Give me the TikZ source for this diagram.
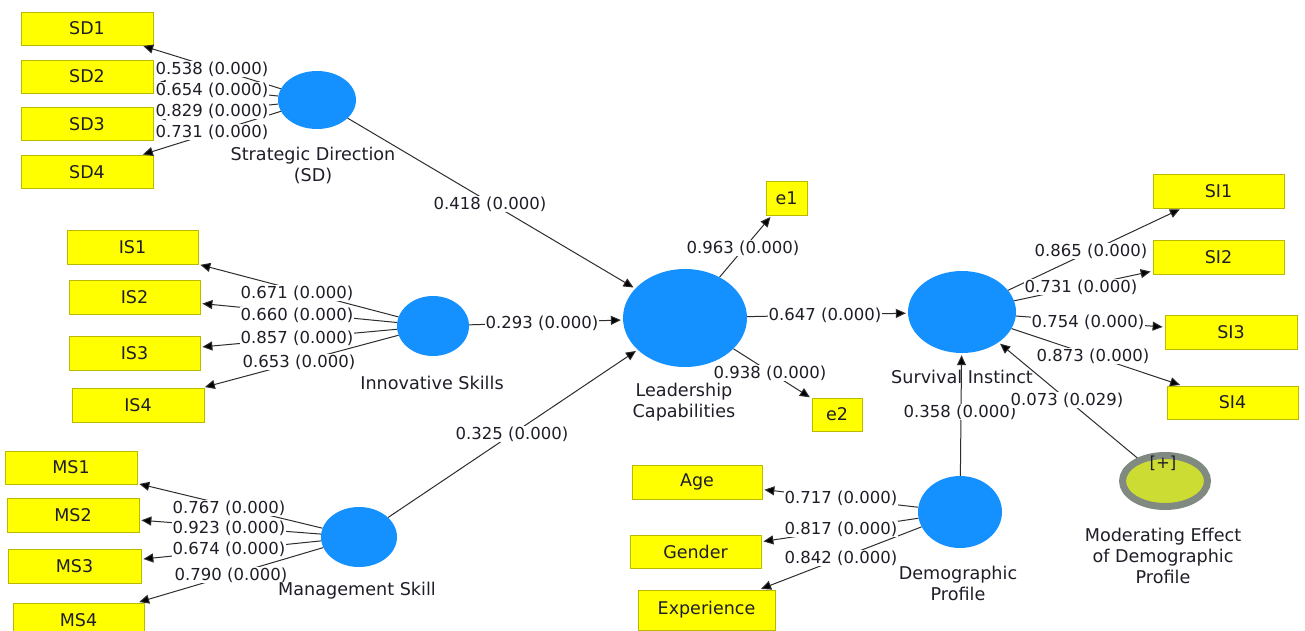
\documentclass[tikz,border=0pt]{standalone}
\usepackage{fontspec}
\setmainfont{DejaVu Sans}
\usetikzlibrary{arrows.meta,shapes.geometric}
\definecolor{boxy}{RGB}{255,255,0}
\definecolor{boxb}{RGB}{185,185,0}
\definecolor{lvb}{RGB}{20,145,255}
\definecolor{modf}{RGB}{205,220,50}
\definecolor{modr}{RGB}{128,138,128}
\definecolor{lineg}{RGB}{45,45,45}
\definecolor{txt}{RGB}{30,30,40}
\begin{document}
\begin{tikzpicture}[x=1pt,y=-1pt,
  font=\fontsize{16.5}{21}\selectfont, text=txt,
  ind/.style={draw=boxb, fill=boxy, line width=0.8pt, inner sep=0pt, minimum height=34pt,
              font=\fontsize{17.5}{21}\selectfont},
  lv/.style={ellipse, fill=lvb, inner sep=0pt},
  conn/.style={draw=lineg, line width=1pt, -{Triangle[length=10pt,width=9pt,fill=black]}, shorten >=2pt},
  lab/.style={fill=white, inner sep=1pt},
  nm/.style={align=center, inner sep=0pt, font=\fontsize{17.6}{21}\selectfont}]
\clip (0,0) rectangle (1305,630);
\fill[white] (0,0) rectangle (1305,630);

% indicator boxes
\node[ind, minimum width=132pt, minimum height=33pt] (sd1) at (87,28.5) {SD1};
\node[ind, minimum width=132pt, minimum height=33pt] (sd2) at (87,76.5) {SD2};
\node[ind, minimum width=132pt, minimum height=33pt] (sd3) at (87,124) {SD3};
\node[ind, minimum width=132pt, minimum height=33pt] (sd4) at (87,172) {SD4};

\node[ind, minimum width=131pt] (is1) at (132.5,247) {IS1};
\node[ind, minimum width=131pt] (is2) at (134.5,297) {IS2};
\node[ind, minimum width=131pt] (is3) at (134.5,353) {IS3};
\node[ind, minimum width=132pt] (is4) at (138,405) {IS4};

\node[ind, minimum width=132pt, minimum height=33pt] (ms1) at (71,467.5) {MS1};
\node[ind, minimum width=132pt] (ms2) at (73,515) {MS2};
\node[ind, minimum width=133pt] (ms3) at (74.5,566) {MS3};
\node[ind, minimum width=131pt] (ms4) at (78.5,620) {MS4};

\node[ind, minimum width=41pt] (e1) at (786.5,198) {e1};
\node[ind, minimum width=50pt, minimum height=33pt] (e2) at (837,414.5) {e2};

\node[ind, minimum width=131pt] (si1) at (1218.5,191) {SI1};
\node[ind, minimum width=131pt] (si2) at (1218.5,257) {SI2};
\node[ind, minimum width=132pt] (si3) at (1231,332) {SI3};
\node[ind, minimum width=131pt, minimum height=33pt] (si4) at (1232.5,402.5) {SI4};

\node[ind, minimum width=130pt] (age) at (697,482) {Age};
\node[ind, minimum width=131pt, minimum height=33pt] (gen) at (695.5,551.5) {Gender};
\node[ind, minimum width=137pt, minimum height=40pt] (exp) at (706.5,610) {Experience};

% latent variables
\node[lv, minimum width=78pt, minimum height=58pt] (sd) at (317,100) {};
\node[lv, minimum width=72pt, minimum height=60pt] (is) at (433,326) {};
\node[lv, minimum width=76pt, minimum height=60pt] (ms) at (359,537) {};
\node[lv, minimum width=124pt, minimum height=98pt] (lc) at (685,318) {};
\node[lv, minimum width=108pt, minimum height=82pt] (si) at (962,312) {};
\node[lv, minimum width=84pt, minimum height=72pt] (dp) at (960,512) {};
\node[ellipse, fill=modf, draw=modr, line width=7pt, inner sep=0pt,
      minimum width=85pt, minimum height=51pt] (mod) at (1165,481) {};

% connectors
\foreach \t in {sd1,sd2,sd3,sd4} \draw[conn] (sd) -- (\t);
\foreach \t in {is1,is2,is3,is4} \draw[conn] (is) -- (\t);
\foreach \t in {ms1,ms2,ms3,ms4} \draw[conn] (ms) -- (\t);
\foreach \t in {si1,si2,si3,si4} \draw[conn] (si) -- (\t);
\foreach \t in {age,gen,exp} \draw[conn] (dp) -- (\t);
\draw[conn] (lc) -- (e1);
\draw[conn] (lc) -- (e2);
\draw[conn] (sd) -- (lc);
\draw[conn] (is) -- (lc);
\draw[conn] (ms) -- (lc);
\draw[conn] (lc) -- (si);
\draw[conn] (dp) -- (si);
\draw[conn] (mod) -- (si);

% coefficient labels
\node[lab] (l1) at (212,69) {0.538 (0.000)};
\node[lab] (l2) at (212,90) {0.654 (0.000)};
\node[lab] (l3) at (212,111) {0.829 (0.000)};
\node[lab] (l4) at (212,132) {0.731 (0.000)};
\node[lab] (l5) at (297,293) {0.671 (0.000)};
\node[lab] (l6) at (297,315) {0.660 (0.000)};
\node[lab] (l7) at (297,338) {0.857 (0.000)};
\node[lab] (l8) at (299,362) {0.653 (0.000)};
\node[lab] (l9) at (229,508) {0.767 (0.000)};
\node[lab] (l10) at (229,528) {0.923 (0.000)};
\node[lab] (l11) at (229,549) {0.674 (0.000)};
\node[lab] (l12) at (231,575) {0.790 (0.000)};
\node[lab] (l13) at (490,204) {0.418 (0.000)};
\node[lab] (l14) at (542,323) {0.293 (0.000)};
\node[lab] (l15) at (512,434) {0.325 (0.000)};
\node[lab] (l16) at (825,315) {0.647 (0.000)};
\node[lab] (l17) at (743,248) {0.963 (0.000)};
\node[lab] (l18) at (770,373) {0.938 (0.000)};
\node[lab] (l19) at (1091,251) {0.865 (0.000)};
\node[lab] (l20) at (1081,287) {0.731 (0.000)};
\node[lab] (l21) at (1088,322) {0.754 (0.000)};
\node[lab] (l22) at (1093,356) {0.873 (0.000)};
\node[lab] (l23) at (960,412) {0.358 (0.000)};
\node[lab] (l24) at (1067,400) {0.073 (0.029)};
\node[lab] (l25) at (841,498) {0.717 (0.000)};
\node[lab] (l26) at (841,529) {0.817 (0.000)};
\node[lab] (l27) at (841,558) {0.842 (0.000)};

% construct names
\node[nm] (n1) at (313,165) {Strategic Direction\\(SD)};
\node[nm] (n2) at (432,383) {Innovative Skills};
\node[nm] (n3) at (357,591) {Management Skill};
\node[nm] (n4) at (684,402) {Leadership\\Capabilities};
\node[nm] (n5) at (962,377) {Survival Instinct};
\node[nm] (n6) at (958,583) {Demographic\\Profile};
\node[nm] (n7) at (1163,556) {Moderating Effect\\of Demographic\\Profile};
\node[nm, font=\fontsize{16.5}{21}\selectfont] (n8) at (1163,463) {[+]};
\end{tikzpicture}
\end{document}
